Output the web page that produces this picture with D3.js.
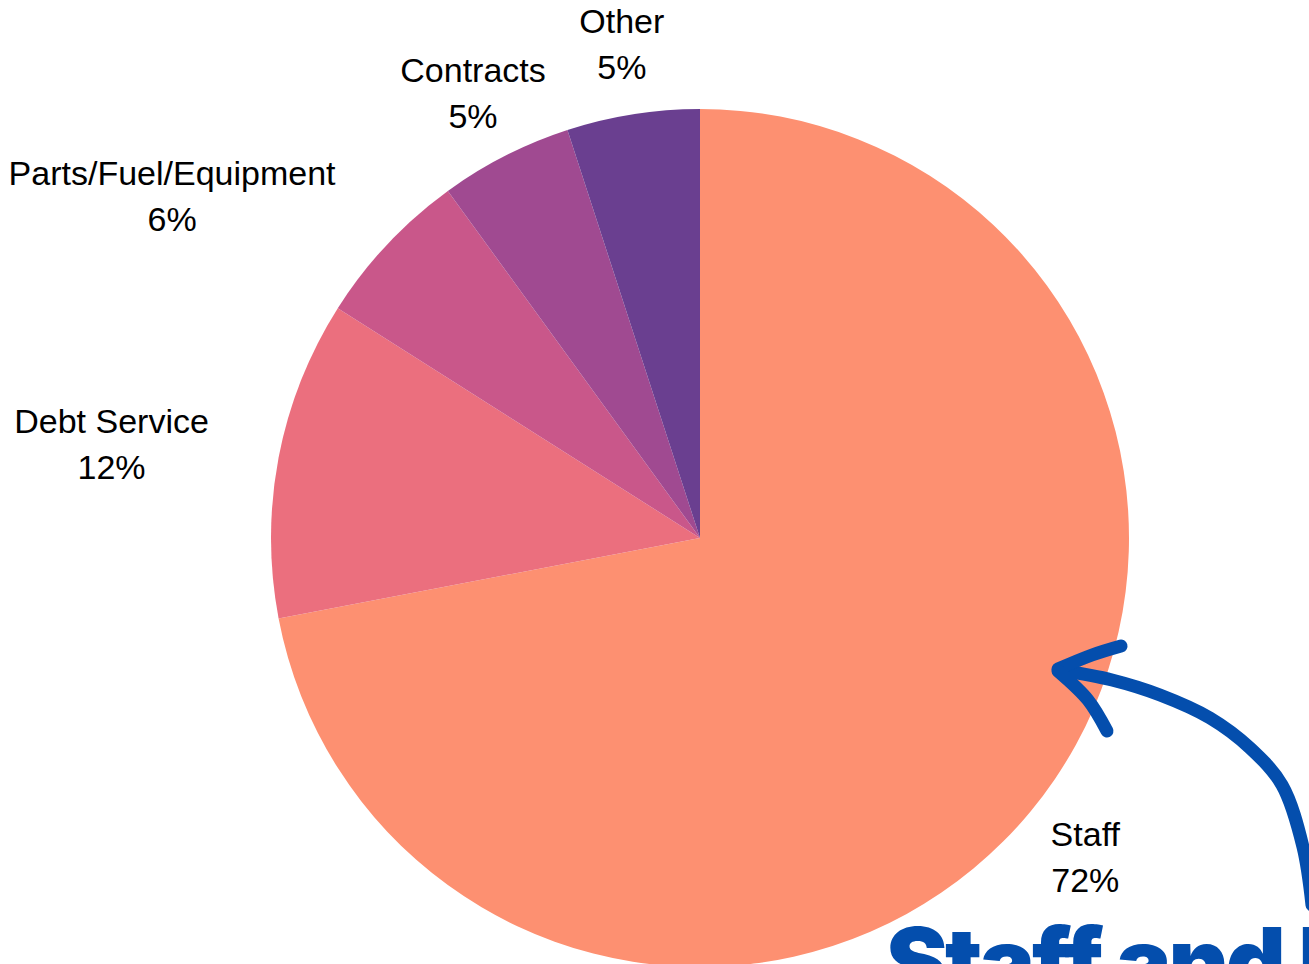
<!DOCTYPE html>
<html>
<head>
<meta charset="utf-8">
<script src="https://cdn.jsdelivr.net/npm/d3@7"></script>
<style>
  html, body { margin: 0; padding: 0; background: #fff; overflow: hidden; }
  svg { display: block; }
</style>
</head>
<body>
<svg></svg>
<script>
var WIDTH = 1309;
var HEIGHT = 964;
var RADIUS = 429;
var LABEL_RADIUS = 500;

// budget shares, clockwise from 12 o'clock
var categories = ["Staff", "Debt Service", "Parts/Fuel/Equipment", "Contracts", "Other"];
var shares = [72, 12, 6, 5, 5];
var colors = ["#FD9071", "#EB6F7E", "#C9578A", "#A04A91", "#6A3F90"];

// hand drawn arrow pointing at the staff slice
var arrowShaft = [[1312, 905], [1303, 847], [1282, 785], [1250, 748], [1210, 718], [1160, 695], [1112, 680], [1060, 670]];
var arrowTop = [[1058, 669], [1092, 655], [1121, 646]];
var arrowBottom = [[1058, 671], [1088, 700], [1107, 731]];
var headline = "Staff and Benefits";

var svg = d3.select("svg")
    .attr("width", WIDTH)
    .attr("height", HEIGHT);

var cx = 700;
var cy = 538;

var color = d3.scaleOrdinal()
    .domain(categories)
    .range(colors);

var pie = d3.pie()
    .sort(null)
    .value(function(d) { return d.value; });

var data = categories.map(function(c, i) { return { name: c, value: shares[i] }; });
var arcs = pie(data);

var arc = d3.arc()
    .innerRadius(0)
    .outerRadius(RADIUS);

var g = svg.append("g")
    .attr("transform", "translate(" + cx + "," + cy + ")");

g.selectAll("path")
    .data(arcs)
    .enter().append("path")
    .attr("d", arc)
    .attr("fill", function(d) { return color(d.data.name); });

var total = d3.sum(shares);

var labels = g.selectAll("g.label")
    .data(arcs)
    .enter().append("g")
    .attr("class", "label")
    .each(function(d)
    {
        var mid = (d.startAngle + d.endAngle) / 2;
        var x = LABEL_RADIUS * Math.sin(mid);
        var y = -LABEL_RADIUS * Math.cos(mid);
        var grp = d3.select(this);
        var lines = [d.data.name, Math.round(d.value / total * 100) + "%"];
        var texts = grp.selectAll("text")
            .data(lines)
            .enter().append("text")
            .text(function(t) { return t; })
            .attr("font-family", "'Liberation Sans', Arial, sans-serif")
            .attr("font-size", 34)
            .attr("fill", "#000")
            .attr("text-anchor", "middle")
            .attr("dominant-baseline", "central")
            .attr("y", function(t, i) { return y + (i === 0 ? -23 : 23); });
        var w = 0;
        texts.each(function() { w = Math.max(w, this.getComputedTextLength()); });
        var centre = x;
        if (Math.sin(mid) < -0.7) centre = x - w / 2;
        texts.attr("x", centre);
    });

var arrowColor = "#044EAD";
var line = d3.line().curve(d3.curveCatmullRom);

svg.append("path")
    .attr("d", line(arrowShaft))
    .attr("fill", "none")
    .attr("stroke", arrowColor)
    .attr("stroke-width", 13)
    .attr("stroke-linecap", "round");

[arrowTop, arrowBottom].forEach(function(b)
{
    svg.append("path")
        .attr("d", line(b))
        .attr("fill", "none")
        .attr("stroke", arrowColor)
        .attr("stroke-width", 13)
        .attr("stroke-linecap", "round")
        .attr("stroke-linejoin", "round");
});

svg.append("text")
    .text(headline)
    .attr("x", 886)
    .attr("y", 995)
    .attr("font-family", "Inter, Roboto, sans-serif")
    .attr("font-weight", 900)
    .attr("font-size", 93)
    .attr("letter-spacing", -3)
    .attr("fill", arrowColor);
</script>
</body>
</html>
